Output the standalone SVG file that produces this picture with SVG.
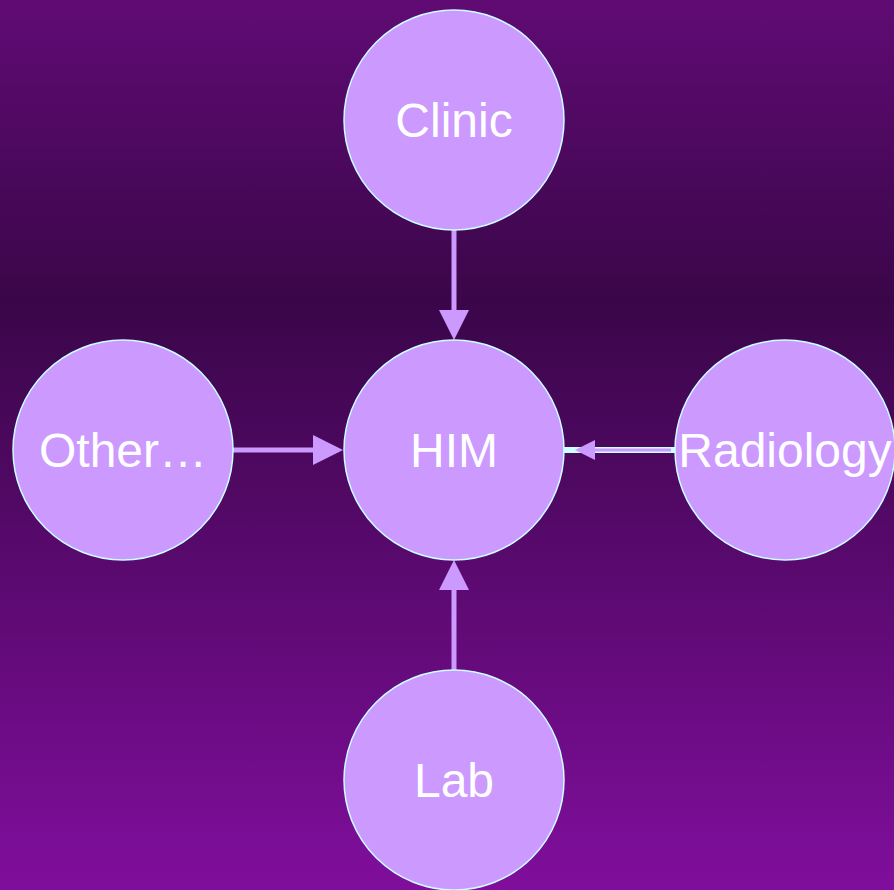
<svg xmlns="http://www.w3.org/2000/svg" width="894" height="890" viewBox="0 0 894 890">
<defs>
<linearGradient id="bg" x1="0" y1="0" x2="0" y2="1">
<stop offset="0" stop-color="#600B74"/>
<stop offset="0.34" stop-color="#3A0649"/>
<stop offset="1" stop-color="#800E9C"/>
</linearGradient>
<style>
.node circle{fill:#CC99FF;stroke:#CCFFFF;stroke-width:1.5}
.node text{fill:#FFFFFF;font-family:"Liberation Sans",Arial,sans-serif;font-size:48px;text-anchor:middle;dominant-baseline:central}
.line{stroke:#CC99FF;stroke-width:5;fill:none}
.head{fill:#CC99FF}
</style>
</defs>
<rect width="894" height="890" fill="url(#bg)"/>
<g id="connectors">
<line class="line" x1="454" y1="230" x2="454" y2="312"/>
<polygon class="head" points="439,310 469,310 454,340"/>
<line class="line" x1="233" y1="450" x2="315" y2="450"/>
<polygon class="head" points="313,435 313,465 343,450"/>
<line class="line" x1="454" y1="670" x2="454" y2="588"/>
<polygon class="head" points="439,590 469,590 454,560"/>
<line x1="563" y1="450" x2="675" y2="450" stroke="#CCFFFF" stroke-width="6"/>
<line x1="592" y1="450" x2="671" y2="450" stroke="#CC99FF" stroke-width="3"/>
<polygon class="head" points="595,440 595,460 575,450"/>
</g>
<g id="clinic" class="node"><circle cx="454" cy="120" r="110"/><text x="454" y="120">Clinic</text></g>
<g id="him" class="node"><circle cx="454" cy="450" r="110"/><text x="454" y="450">HIM</text></g>
<g id="other" class="node"><circle cx="123" cy="450" r="110"/><text x="123" y="450">Other…</text></g>
<g id="radiology" class="node"><circle cx="785" cy="450" r="110"/><text x="785" y="450">Radiology</text></g>
<g id="lab" class="node"><circle cx="454" cy="780" r="110"/><text x="454" y="780">Lab</text></g>
</svg>
